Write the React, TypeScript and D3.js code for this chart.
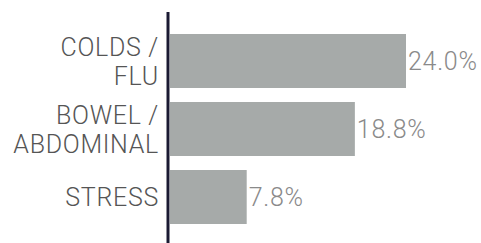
import React from 'react';
import * as d3 from 'd3';

const categories = ['COLDS / FLU', 'BOWEL / ABDOMINAL', 'STRESS'];
const categoryLines = [['COLDS /', 'FLU'], ['BOWEL /', 'ABDOMINAL'], ['STRESS']];
const values = [24.0, 18.8, 7.8];

const W = 481;
const H = 243;
const FONT = 'Roboto, "Liberation Sans", Arial, sans-serif';

const App: React.FC = () => {
  const x = d3.scaleLinear().domain([0, 24]).range([170, 406]);
  const y = d3.scaleBand<string>()
    .domain(categories)
    .range([27, 231])
    .paddingInner(0.206)
    .paddingOuter(0.103);

  const lineH = 29;

  return (
    <div style={{ position: 'fixed', left: 0, top: 0 }}>
      <svg width={W} height={H} style={{ display: 'block', background: '#fff' }}>
        {categories.map((c, i) => {
          const y0 = y(c) as number;
          const cy = y0 + y.bandwidth() / 2;
          const lines = categoryLines[i];
          const first = cy - ((lines.length - 1) * lineH) / 2;
          return (
            <g key={c}>
              <rect x={x(0)} y={y0} width={x(values[i]) - x(0)} height={y.bandwidth()} fill="#a6aaa9" />
              <text
                x={x(values[i]) + 2}
                y={cy}
                dy="0.36em"
                fill="#8a8a8a"
                fontFamily={FONT}
                fontWeight={300}
                fontSize={25}
                letterSpacing={0.7}
              >
                {values[i].toFixed(1)}%
              </text>
              <text x={159} textAnchor="end" fill="#555555" fontFamily={FONT} fontWeight={300} fontSize={25} letterSpacing={0.7}>
                {lines.map((l, j) => (
                  <tspan key={l} x={159} y={first + j * lineH} dy="0.36em">{l}</tspan>
                ))}
              </text>
            </g>
          );
        })}
        <line x1={168} x2={168} y1={12} y2={H} stroke="#1b1a33" strokeWidth={3} />
      </svg>
    </div>
  );
};

export default App;
